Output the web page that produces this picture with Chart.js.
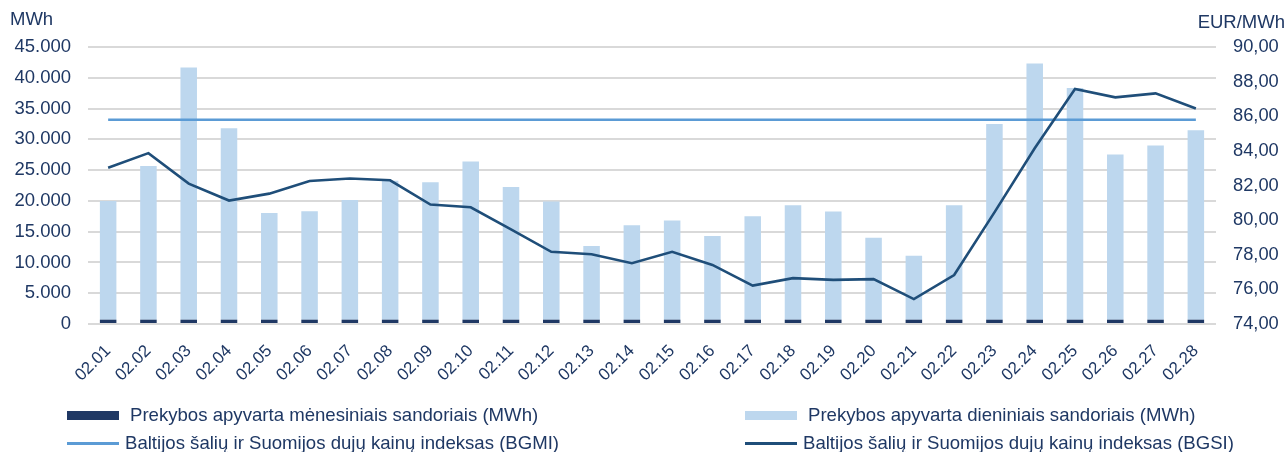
<!DOCTYPE html>
<html>
<head>
<meta charset="utf-8">
<script src="https://cdn.jsdelivr.net/npm/chart.js@4/dist/chart.umd.min.js"></script>
<style>
  body { margin: 0; background: #ffffff; font-family: 'Liberation Sans', Arial, sans-serif; color: #1f3864; }
  #wrap { position: relative; width: 1288px; height: 452px; }
  #chart { position: absolute; left: 0; top: 0; }
  .axTitle { position: absolute; font-size: 18.5px; color: #1f3864; white-space: nowrap; line-height: 22px; }
  .lg { position: absolute; font-size: 18.6px; color: #1f3864; white-space: nowrap; line-height: 22px; }
  #legend i { position: absolute; display: block; }
</style>
</head>
<body>
<div id="wrap">
  <canvas id="chart" width="1288" height="452"></canvas>
  <div class="axTitle" style="left:10px; top:8px;">MWh</div>
  <div class="axTitle" style="right:3px; top:11px;">EUR/MWh</div>
  <div id="legend"></div>
</div>
<script>
// kategorijos (dienos)
const days = ['02.01','02.02','02.03','02.04','02.05','02.06','02.07','02.08','02.09','02.10',
  '02.11','02.12','02.13','02.14','02.15','02.16','02.17','02.18','02.19','02.20',
  '02.21','02.22','02.23','02.24','02.25','02.26','02.27','02.28'];

// MWh
const monthlyTurnover = [700,700,700,700,700,700,700,700,700,700,700,700,700,700,
  700,700,700,700,700,700,700,700,700,700,700,700,700,700];
const dailyTurnover = [19290,24950,40950,31090,17350,17620,19450,22590,22310,25710,
  21550,19190,11960,15360,16120,13580,16810,18590,17570,13300,
  10390,18590,31800,41600,37620,26840,28290,30770];

// EUR/MWh
const bgmi = [85.8,85.8,85.8,85.8,85.8,85.8,85.8,85.8,85.8,85.8,85.8,85.8,85.8,85.8,
  85.8,85.8,85.8,85.8,85.8,85.8,85.8,85.8,85.8,85.8,85.8,85.8,85.8,85.8];
const bgsi = [83.03,83.87,82.11,81.13,81.53,82.26,82.40,82.30,80.90,80.74,
  79.46,78.17,78.03,77.51,78.17,77.41,76.22,76.65,76.55,76.59,
  75.44,76.83,80.45,84.15,87.57,87.09,87.32,86.45];

const names = [
  'Prekybos apyvarta mėnesiniais sandoriais (MWh)',
  'Prekybos apyvarta dieniniais sandoriais (MWh)',
  'Baltijos šalių ir Suomijos dujų kainų indeksas (BGMI)',
  'Baltijos šalių ir Suomijos dujų kainų indeksas (BGSI)'
];
const colors = ['#1f3864', '#bdd7ee', '#5b9bd5', '#1f4e79'];

const textColor = '#1f3864';
const fontFam = "'Liberation Sans', Arial, sans-serif";

const ctx = document.getElementById('chart').getContext('2d');
new Chart(ctx, {
  type: 'bar',
  data: {
    labels: days,
    datasets: [
      {
        type: 'line', label: names[3], data: bgsi, yAxisID: 'y2',
        borderColor: colors[3], borderWidth: 2.6, pointRadius: 0, tension: 0, order: 0
      },
      {
        type: 'line', label: names[2], data: bgmi, yAxisID: 'y2',
        borderColor: colors[2], borderWidth: 2.4, pointRadius: 0, tension: 0, order: 1
      },
      {
        label: names[0], data: monthlyTurnover, yAxisID: 'y', stack: 's',
        backgroundColor: colors[0], order: 2,
        categoryPercentage: 0.41, barPercentage: 1
      },
      {
        label: names[1], data: dailyTurnover, yAxisID: 'y', stack: 's',
        backgroundColor: colors[1], order: 3,
        categoryPercentage: 0.41, barPercentage: 1
      }
    ]
  },
  options: {
    responsive: false,
    animation: false,
    layout: { padding: { top: 47, left: 0, right: 0, bottom: 0 } },
    plugins: { legend: { display: false }, tooltip: { enabled: false } },
    scales: {
      x: {
        stacked: true,
        grid: { display: false, drawTicks: false },
        border: { display: false },
        ticks: {
          color: textColor, font: { family: fontFam, size: 17 },
          minRotation: 45, maxRotation: 45, padding: 17, autoSkip: false
        },
        afterFit: (s) => { s.height = 128; }
      },
      y: {
        position: 'left', stacked: true, min: 0, max: 45000,
        ticks: {
          stepSize: 5000, color: textColor, padding: 17,
          font: { family: fontFam, size: 18.5 },
          callback: (v) => v === 0 ? '0' : v.toLocaleString('de-DE')
        },
        grid: { color: '#d9d9d9', lineWidth: 2, drawTicks: false },
        border: { display: false },
        afterFit: (s) => { s.width = 88; }
      },
      y2: {
        position: 'right', min: 74, max: 90,
        ticks: {
          stepSize: 2, color: textColor, padding: 17,
          font: { family: fontFam, size: 18.3 },
          callback: (v) => v.toFixed(2).replace('.', ',')
        },
        grid: { drawOnChartArea: false, drawTicks: false },
        border: { display: false },
        afterFit: (s) => { s.width = 72; }
      }
    }
  }
});

// legenda
const legend = document.getElementById('legend');
const legendPos = [
  { x: 67, y: 415, tx: 130, kind: 'box' },
  { x: 745, y: 415, tx: 808, kind: 'box' },
  { x: 67, y: 443, tx: 125, kind: 'line' },
  { x: 745, y: 443, tx: 803, kind: 'line' }
];
legendPos.forEach((p, i) => {
  const mark = document.createElement('i');
  mark.style.left = p.x + 'px';
  mark.style.width = '52px';
  mark.style.background = colors[i];
  if (p.kind === 'box') { mark.style.top = (p.y - 4.5) + 'px'; mark.style.height = '9px'; }
  else { mark.style.top = (p.y - 1.5) + 'px'; mark.style.height = '3px'; }
  legend.appendChild(mark);
  const t = document.createElement('div');
  t.className = 'lg';
  t.style.left = p.tx + 'px';
  t.style.top = (p.y - 11) + 'px';
  t.textContent = names[i];
  legend.appendChild(t);
});
</script>
</body>
</html>
